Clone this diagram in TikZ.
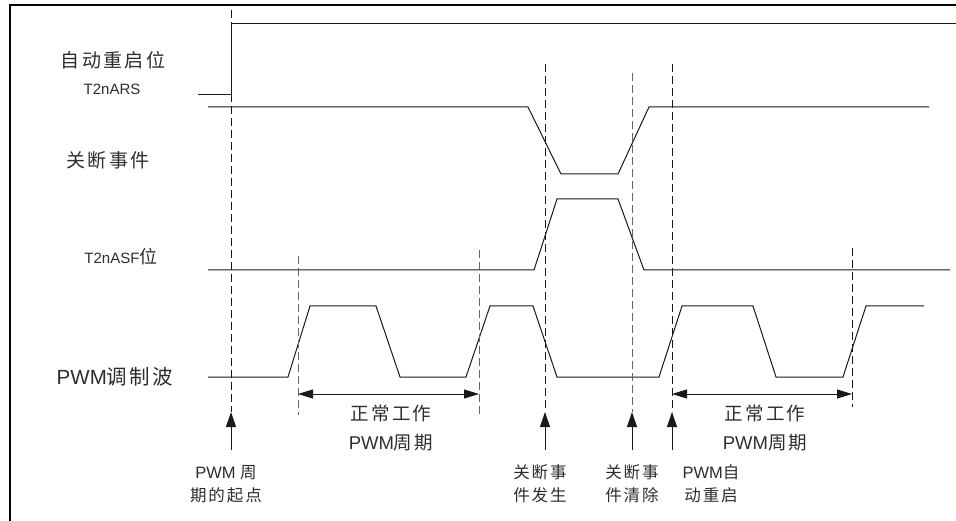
\documentclass[tikz,border=0pt]{standalone}
\usepackage{fontspec}
\setmainfont{Liberation Sans}
\newfontfamily\cjk[LetterSpace=12]{Noto Sans CJK SC}
\usetikzlibrary{arrows.meta,positioning}
\definecolor{Ink}{RGB}{25,25,25}
\definecolor{TextInk}{RGB}{45,45,45}
\definecolor{GuideGrey}{RGB}{100,100,100}
\tikzset{
  sig/.style={draw=Ink, line width=1pt, line join=miter},
  guide/.style={draw=Ink, line width=1pt, dash pattern=on 8pt off 4pt},
  guidegrey/.style={guide, draw=GuideGrey},
  evarr/.style={-{Triangle[length=15pt,width=10pt]}, draw=Ink, line width=1pt},
  spanarr/.style={{Triangle[length=15pt,width=9pt]}-{Triangle[length=15pt,width=9pt]}, draw=Ink, line width=1pt},
  lbl/.style={text=TextInk, inner sep=0pt, font=\fontsize{19}{23}\selectfont},
  lblsmall/.style={text=TextInk, inner sep=0pt, font=\fontsize{15}{18}\selectfont},
  spanlbl/.style={text=TextInk, inner sep=0pt, align=center, font=\fontsize{18.5}{29}\selectfont},
  evlbl/.style={text=TextInk, inner sep=0pt, align=center, font=\fontsize{16.5}{23}\selectfont},
}
\begin{document}
\begin{tikzpicture}[x=1pt,y=-1pt]
\useasboundingbox (0,0) rectangle (956,521);

% frame
\draw[line width=2pt, draw=black] (10,521) -- (10,5) -- (956,5);

% ================= signal names =================
\node[lbl] (arslbl) at (113,60) {\cjk 自动重启位};
\node[lblsmall] (arsname) at (112,89) {T2nARS};
\node[lbl] (shutlbl) at (108,160) {\cjk 关断事件};
\node[lblsmall] (asflbl) at (121,257) {T2nASF{\cjk\fontsize{18}{20}\selectfont 位}};
\node[lbl, font=\fontsize{20.5}{24}\selectfont] (pwmlbl) at (115,377) {PWM{\cjk 调制波}};

% ================= waveforms =================
\draw[sig] (198,95) -- (231,95) -- (231,24) -- (956,24);
\draw[sig] (208,107) -- (528,107) -- (561,174) -- (618,174) -- (649,107) -- (929,107);
\draw[sig] (208,270) -- (534,270) -- (557,199) -- (618,199) -- (644,270) -- (950,270);
\draw[sig] (208,377) -- (288,377) -- (310,306) -- (376,306) -- (400,377) -- (466,377)
  -- (490,306) -- (533,306) -- (557,377) -- (659,377) -- (682,306) -- (753,306)
  -- (776,377) -- (843,377) -- (866,306) -- (924,306);

% ================= event markers =================
\coordinate (start) at (231,412);
\coordinate (shuton) at (545,412);
\coordinate (shutoff) at (632,412);
\coordinate (restart) at (672,412);
\coordinate (startbase) at (231,450);
\coordinate (shutonbase) at (545,450);
\coordinate (shutoffbase) at (632,450);
\coordinate (restartbase) at (672,450);

\draw[guide] (231,10) -- (start);
\draw[guide] (545,64) -- (shuton);
\draw[guidegrey] (632,73) -- (shutoff);
\draw[guide] (672,64) -- (restart);
\draw[guidegrey] (298,256) -- (298,415);
\draw[guidegrey] (479,250) -- (479,415);
\draw[guide] (852,248) -- (852,407);

\draw[evarr] (startbase) -- (start);
\draw[evarr] (shutonbase) -- (shuton);
\draw[evarr] (shutoffbase) -- (shutoff);
\draw[evarr] (restartbase) -- (restart);

\node[evlbl] (startlbl) at (226,484) {PWM {\cjk 周}\\{\cjk 期的起点}};
\node[evlbl] (shutonlbl) at (540,484) {\cjk 关断事\\\cjk 件发生};
\node[evlbl] (shutofflbl) at (632,484) {\cjk 关断事\\\cjk 件清除};
\node[evlbl] (restartlbl) at (711,484) {PWM{\cjk 自}\\{\cjk 动重启}};

% ================= normal PWM periods =================
\coordinate (p1a) at (298,394);
\coordinate (p1b) at (479,394);
\coordinate (p2a) at (672,394);
\coordinate (p2b) at (852,394);
\draw[spanarr] (p1a) -- (p1b);
\draw[spanarr] (p2a) -- (p2b);
\node[spanlbl] (period1) at (391,428) {{\cjk 正常工作}\\PWM{\cjk 周期}};
\node[spanlbl] (period2) at (765,428) {{\cjk 正常工作}\\PWM{\cjk 周期}};

\end{tikzpicture}
\end{document}
